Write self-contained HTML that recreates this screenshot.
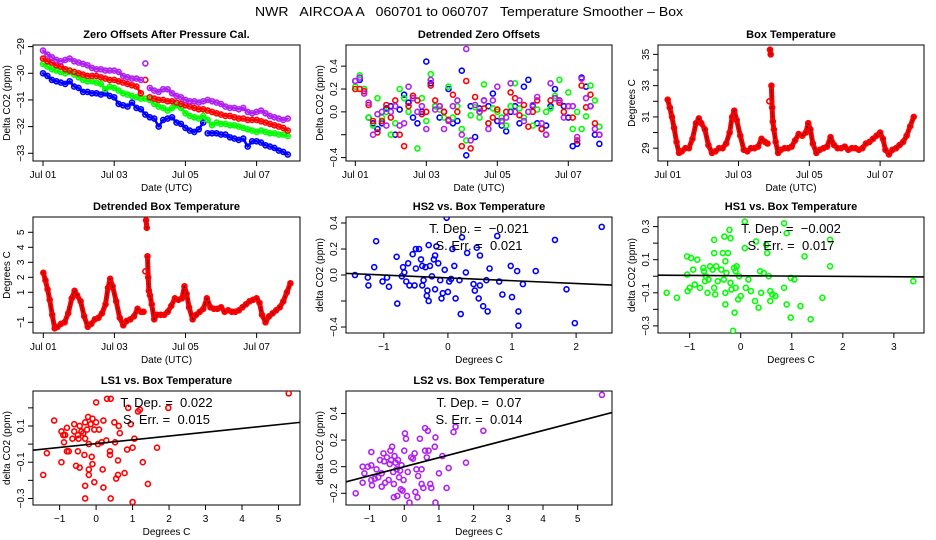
<!DOCTYPE html>
<html><head><meta charset="utf-8"><title>NWR AIRCOA A Temperature Smoother</title>
<style>
html,body{margin:0;padding:0;background:#fff;}
svg{display:block;font-family:"Liberation Sans",sans-serif;}
</style></head>
<body>
<svg id="chart" width="936" height="540" viewBox="0 0 936 540" xmlns="http://www.w3.org/2000/svg">
<rect x="0" y="0" width="936" height="540" fill="#fff"/>
<text x="469" y="16" text-anchor="middle" font-size="13" textLength="428" lengthAdjust="spacingAndGlyphs" style="white-space:pre">NWR   AIRCOA A   060701 to 060707   Temperature Smoother – Box</text>
</svg>
<script>
// ---------- data ----------
const days = [0,0.125,0.25,0.375,0.5,0.625,0.75,0.875,1,1.125,1.25,1.375,1.5,1.625,1.75,1.875,2,2.125,2.25,2.375,2.5,2.625,2.75,2.875,3,3.125,3.25,3.375,3.5,3.625,3.75,3.875,4,4.125,4.25,4.375,4.5,4.625,4.75,4.875,5,5.125,5.25,5.375,5.5,5.625,5.75,5.875,6,6.125,6.25,6.375,6.5,6.625,6.75,6.875];
const dateTickDays = [0,2,4,6];
const dateTickLabels = ['Jul 01','Jul 03','Jul 05','Jul 07'];

const zeroHS2 = [-30.0,-30.1,-30.25,-30.3,-30.35,-30.4,-30.3,-30.5,-30.55,-30.7,-30.7,-30.75,-30.75,-30.8,-30.75,-30.85,-30.9,-31.15,-31.2,-31.25,-31.1,-31.3,-31.35,-31.55,-31.65,-31.7,-32.0,-31.75,-31.7,-31.65,-31.85,-31.9,-32.05,-32.15,-32.2,-32.1,-31.85,-32.25,-32.25,-32.25,-32.3,-32.3,-32.4,-32.45,-32.5,-32.45,-32.75,-32.55,-32.55,-32.6,-32.7,-32.75,-32.8,-32.9,-32.95,-33.05];
const zeroHS1 = [-29.65,-29.75,-29.85,-29.9,-29.95,-30.0,-29.95,-30.05,-30.15,-30.25,-30.3,-30.3,-30.35,-30.4,-30.6,-30.5,-30.55,-30.65,-30.75,-30.8,-30.85,-30.9,-30.95,-30.95,-31.0,-31.15,-31.25,-31.3,-31.4,-31.3,-31.2,-31.3,-31.5,-31.6,-31.65,-31.7,-31.6,-31.75,-31.95,-31.85,-31.9,-31.9,-31.95,-31.95,-32.0,-32.05,-32.1,-32.15,-32.2,-32.15,-32.2,-32.25,-32.25,-32.3,-32.3,-32.35];
const zeroLS1 = [-29.45,-29.55,-29.6,-29.7,-29.75,-29.85,-29.9,-29.95,-30.0,-30.05,-30.1,-30.1,-30.1,-30.15,-30.2,-30.25,-30.25,-30.3,-30.35,-30.4,-30.45,-30.5,-30.75,-30.25,-30.9,-30.95,-31.0,-31.0,-31.05,-31.05,-31.1,-31.15,-31.2,-31.25,-31.3,-31.35,-31.35,-31.4,-31.45,-31.5,-31.55,-31.6,-31.6,-31.65,-31.7,-31.7,-31.75,-31.75,-31.75,-31.8,-31.85,-31.9,-31.95,-32.0,-32.05,-32.15];
const zeroLS2 = [-29.15,-29.3,-29.4,-29.5,-29.55,-29.5,-29.45,-29.55,-29.6,-29.65,-29.7,-29.8,-29.85,-29.85,-29.9,-29.9,-29.9,-29.95,-30.1,-30.15,-30.2,-30.2,-30.25,-29.63,-30.55,-30.65,-30.7,-30.6,-30.6,-30.75,-30.85,-30.9,-31.0,-31.05,-31.05,-31.1,-31.05,-31.0,-31.05,-31.1,-31.15,-31.25,-31.3,-31.3,-31.35,-31.3,-31.45,-31.5,-31.45,-31.4,-31.5,-31.6,-31.65,-31.7,-31.75,-31.7];

const detHS2 = [0.27,0.28,0.2,-0.05,-0.1,-0.15,-0.1,0.03,0.05,-0.2,0.02,0.15,0.08,-0.05,-0.1,0.0,0.44,0.25,0.05,-0.05,0.0,0.2,-0.1,-0.08,0.36,-0.38,0.05,-0.22,0.03,0.1,0.05,0.16,-0.08,-0.12,-0.17,0.0,0.05,-0.1,0.22,0.28,0.05,-0.1,-0.15,-0.12,0.05,0.2,0.1,0.05,-0.05,-0.3,-0.28,0.3,0.22,0.05,-0.2,-0.28];
const detLS1 = [0.2,0.2,0.18,0.06,-0.08,-0.18,-0.08,0.06,-0.05,0.1,-0.2,-0.3,0.05,0.14,0.1,-0.02,0.0,0.23,0.1,0.05,0.0,-0.07,0.15,0.0,-0.3,0.27,-0.32,0.13,0.0,0.03,-0.1,-0.05,0.02,-0.08,0.0,0.17,0.12,-0.03,0.06,-0.13,0.0,0.1,-0.15,-0.2,0.1,0.12,0.08,0.0,0.05,-0.05,-0.25,0.23,0.04,0.15,-0.1,-0.2];
const detHS1 = [0.22,0.32,0.2,-0.05,-0.12,0.12,-0.05,0.0,-0.2,-0.1,0.2,0.12,0.0,0.14,-0.32,0.12,-0.08,0.33,0.05,0.02,-0.05,0.22,-0.05,0.05,-0.15,-0.25,-0.03,0.04,-0.05,0.24,-0.1,0.03,0.0,-0.05,-0.12,0.05,0.25,0.03,-0.05,0.0,-0.12,0.02,-0.1,0.0,0.03,0.14,0.28,0.0,0.17,-0.15,0.0,-0.15,-0.04,0.23,0.1,-0.13];
const detLS2 = [0.27,0.3,0.16,0.08,-0.2,-0.02,0.0,-0.12,0.0,0.05,-0.12,-0.1,0.22,0.12,0.0,0.05,-0.15,0.28,0.02,0.05,-0.15,-0.08,0.05,0.1,-0.2,0.55,-0.25,0.06,0.0,0.1,-0.15,0.1,0.22,-0.08,-0.05,0.25,0.0,0.1,-0.08,0.0,0.06,0.13,-0.1,-0.2,0.25,0.12,0.1,-0.05,0.05,0.05,-0.22,0.29,0.12,0.05,-0.15,-0.2];

const boxDays = [0,0.06,0.12,0.18,0.25,0.32,0.4,0.5,0.6,0.7,0.8,0.88,0.95,1.05,1.15,1.25,1.35,1.45,1.55,1.65,1.75,1.82,1.88,1.95,2.05,2.15,2.25,2.35,2.45,2.55,2.65,2.75,2.82,2.87,2.89,2.91,2.93,2.95,2.97,3.0,3.05,3.12,3.2,3.3,3.4,3.5,3.6,3.7,3.8,3.9,3.97,4.03,4.1,4.2,4.3,4.4,4.5,4.6,4.7,4.8,4.9,5.0,5.1,5.2,5.3,5.4,5.5,5.6,5.7,5.8,5.9,6.0,6.08,6.15,6.25,6.35,6.45,6.55,6.65,6.75,6.85,6.95];
const boxTemp = [32.1,31.6,31.0,30.3,29.4,28.7,28.8,29.0,29.0,29.6,30.6,30.9,30.6,30.2,29.2,28.7,28.8,29.0,29.0,29.3,30.0,31.0,31.4,30.8,29.8,28.9,28.8,29.0,29.0,29.1,29.6,29.4,29.3,32.0,35.3,35.0,33.0,31.6,30.7,30.2,29.4,28.7,28.9,29.0,29.0,29.1,29.5,29.9,29.8,30.0,30.6,30.2,29.3,28.7,28.9,29.0,29.1,29.7,29.2,29.0,29.0,29.1,28.9,29.0,29.0,28.9,29.0,29.3,29.4,29.6,29.8,30.0,29.6,28.9,28.6,28.9,29.0,29.2,29.4,29.8,30.4,31.0];
const boxDetrended = [2.3,1.8,1.2,0.5,-0.5,-1.4,-1.3,-1.1,-1.0,-0.4,0.6,1.1,0.8,0.4,-0.6,-1.3,-1.1,-0.8,-0.7,-0.4,0.2,1.3,1.9,1.4,0.4,-0.7,-1.2,-0.9,-0.8,-0.6,-0.1,-0.3,-0.3,2.4,5.8,5.3,3.4,2.0,1.1,0.8,0.2,-0.8,-0.5,-0.5,-0.5,-0.3,0.1,0.6,0.5,0.6,1.4,0.9,0.0,-0.8,-0.5,-0.3,-0.1,0.6,0.0,-0.1,-0.1,0.0,-0.3,-0.2,-0.3,-0.3,-0.2,0.0,0.2,0.4,0.5,0.6,0.3,-0.5,-1.0,-0.6,-0.4,-0.2,0.0,0.4,1.0,1.6];

// scatter points: [box temperature (deg C), delta CO2 (ppm)]
const hs2Points = [[-1.45,0.0],[-1.25,-0.02],[-1.24,-0.08],[-1.15,0.06],[-1.12,0.26],[-1.02,-0.05],[-0.95,-0.02],[-0.92,-0.09],[-0.8,0.14],[-0.79,-0.22],[-0.72,-0.01],[-0.7,0.06],[-0.68,0.02],[-0.65,-0.05],[-0.62,0.09],[-0.6,-0.08],[-0.55,0.16],[-0.52,-0.08],[-0.5,0.2],[-0.5,0.05],[-0.45,0.2],[-0.42,0.12],[-0.4,0.07],[-0.4,-0.08],[-0.38,-0.04],[-0.35,0.06],[-0.33,-0.16],[-0.32,-0.12],[-0.3,0.23],[-0.3,-0.2],[-0.28,0.07],[-0.25,-0.01],[-0.22,0.12],[-0.2,0.15],[-0.2,-0.11],[-0.18,0.22],[-0.15,0.09],[-0.12,-0.04],[-0.1,-0.18],[-0.08,-0.14],[-0.05,0.04],[-0.02,0.44],[0.0,-0.13],[0.02,-0.05],[0.05,-0.03],[0.07,0.2],[0.1,0.07],[0.12,-0.18],[0.18,-0.04],[0.2,-0.3],[0.22,0.29],[0.28,0.02],[0.3,0.17],[0.4,-0.07],[0.42,-0.12],[0.45,0.21],[0.48,-0.18],[0.5,0.15],[0.5,-0.08],[0.55,-0.24],[0.6,-0.04],[0.62,-0.28],[0.65,0.05],[0.77,0.3],[0.8,-0.05],[0.85,-0.15],[0.98,0.07],[1.0,-0.17],[1.08,0.03],[1.1,-0.28],[1.1,-0.39],[1.17,-0.07],[1.37,0.03],[1.67,0.27],[1.85,-0.11],[1.98,-0.37],[2.4,0.37]];
const hs1Points = [[-1.45,-0.1],[-1.25,-0.13],[-1.05,0.01],[-1.05,0.12],[-1.04,-0.09],[-1.0,-0.07],[-0.97,0.11],[-0.93,0.04],[-0.9,-0.05],[-0.85,0.1],[-0.8,-0.07],[-0.73,0.05],[-0.72,0.03],[-0.7,-0.03],[-0.68,0.0],[-0.65,-0.1],[-0.63,-0.02],[-0.6,0.06],[-0.55,0.04],[-0.52,0.22],[-0.52,0.14],[-0.52,-0.07],[-0.5,-0.11],[-0.48,0.06],[-0.45,-0.03],[-0.38,0.04],[-0.35,0.14],[-0.33,-0.02],[-0.32,0.24],[-0.3,0.09],[-0.3,-0.1],[-0.3,-0.17],[-0.28,0.02],[-0.25,0.14],[-0.22,0.28],[-0.2,0.23],[-0.2,-0.04],[-0.18,-0.08],[-0.15,-0.33],[-0.13,0.05],[-0.12,-0.22],[-0.1,0.03],[-0.1,-0.07],[-0.08,0.06],[-0.05,-0.14],[-0.03,0.0],[0.0,-0.12],[0.08,0.33],[0.08,0.17],[0.1,-0.07],[0.15,-0.02],[0.2,-0.09],[0.28,-0.15],[0.3,0.21],[0.35,-0.19],[0.38,0.03],[0.4,-0.1],[0.45,0.02],[0.5,0.19],[0.52,0.14],[0.55,0.0],[0.58,-0.09],[0.58,-0.15],[0.62,-0.11],[0.68,-0.12],[0.85,-0.07],[0.85,0.32],[0.9,0.26],[0.9,-0.17],[0.98,-0.25],[0.98,-0.01],[1.05,-0.02],[1.17,-0.18],[1.25,0.12],[1.37,-0.26],[1.6,-0.13],[1.75,0.06],[1.75,0.22],[3.38,-0.03]];
const ls1Points = [[-1.45,-0.17],[-1.35,-0.05],[-1.15,0.13],[-0.95,0.07],[-0.95,-0.1],[-0.9,0.05],[-0.88,0.01],[-0.85,0.05],[-0.8,0.09],[-0.8,-0.04],[-0.75,-0.04],[-0.65,0.03],[-0.6,0.11],[-0.6,0.07],[-0.55,-0.12],[-0.5,0.05],[-0.5,-0.04],[-0.48,0.03],[-0.45,0.1],[-0.45,-0.13],[-0.4,0.07],[-0.35,0.06],[-0.32,-0.06],[-0.3,0.12],[-0.3,0.03],[-0.3,-0.23],[-0.3,-0.3],[-0.25,0.08],[-0.22,0.15],[-0.2,0.0],[-0.2,-0.14],[-0.2,-0.17],[-0.15,0.11],[-0.12,-0.07],[-0.1,0.14],[-0.1,-0.11],[-0.05,0.08],[-0.05,-0.21],[0.0,0.12],[0.0,0.23],[0.05,0.0],[0.08,0.08],[0.15,0.01],[0.18,-0.14],[0.2,-0.24],[0.2,0.13],[0.28,0.02],[0.3,0.25],[0.38,-0.06],[0.38,-0.04],[0.4,-0.3],[0.4,0.25],[0.5,0.12],[0.52,0.01],[0.55,-0.19],[0.6,-0.17],[0.6,-0.09],[0.62,0.1],[0.65,0.06],[0.78,-0.16],[0.85,-0.03],[0.88,0.2],[0.95,0.11],[1.0,-0.02],[1.0,-0.32],[1.05,0.03],[1.15,0.18],[1.2,0.19],[1.28,-0.1],[1.42,-0.22],[1.67,-0.02],[1.98,0.2],[5.28,0.28]];
const ls2Points = [[-1.4,-0.2],[-1.2,-0.12],[-1.2,0.0],[-1.15,-0.05],[-1.05,0.0],[-0.95,0.11],[-0.95,0.01],[-0.95,-0.1],[-0.93,-0.14],[-0.85,-0.09],[-0.8,-0.02],[-0.75,-0.08],[-0.7,0.05],[-0.65,-0.05],[-0.65,-0.15],[-0.6,0.1],[-0.58,0.04],[-0.55,-0.12],[-0.5,0.07],[-0.45,-0.1],[-0.42,0.02],[-0.4,0.12],[-0.38,0.05],[-0.35,0.15],[-0.32,-0.04],[-0.3,-0.23],[-0.3,-0.13],[-0.28,0.08],[-0.25,0.03],[-0.22,-0.02],[-0.2,-0.22],[-0.18,0.05],[-0.15,-0.08],[-0.12,-0.03],[-0.1,-0.17],[-0.08,0.01],[-0.05,-0.18],[-0.02,-0.1],[0.0,0.12],[0.02,0.25],[0.05,0.21],[0.08,-0.22],[0.1,-0.04],[0.15,-0.27],[0.2,0.07],[0.25,0.06],[0.3,0.1],[0.32,-0.19],[0.35,-0.02],[0.38,-0.23],[0.4,-0.07],[0.45,0.21],[0.5,-0.02],[0.5,-0.13],[0.55,-0.16],[0.6,0.29],[0.6,0.12],[0.65,0.07],[0.68,0.27],[0.7,0.12],[0.75,-0.13],[0.78,-0.16],[0.88,0.15],[0.9,-0.27],[0.9,0.22],[1.0,-0.05],[1.1,0.08],[1.22,-0.16],[1.28,-0.01],[1.42,0.26],[1.48,0.3],[1.78,0.03],[2.28,0.27],[5.7,0.54]];

// fits: [intercept, slope]
const hs2Fit = [-0.022,-0.0217];
const hs1Fit = [0.003,-0.002];
const ls1Fit = [0.0025,0.021];
const ls2Fit = [0.0,0.068];
const hs2Stats = ['T. Dep. =  \u22120.021','S. Err. =  0.021'];
const hs1Stats = ['T. Dep. =  \u22120.002','S. Err. =  0.017'];
const ls1Stats = ['T. Dep. =  0.022','S. Err. =  0.015'];
const ls2Stats = ['T. Dep. =  0.07','S. Err. =  0.014'];

// ---------- drawing ----------
const NS = 'http://www.w3.org/2000/svg';
const svg = document.getElementById('chart');
function mk(tag, attrs, parent){
  const e = document.createElementNS(NS, tag);
  for (const k in attrs) e.setAttribute(k, attrs[k]);
  (parent || svg).appendChild(e);
  return e;
}

function panel(p){
  const g = mk('g', {});
  
  
  const sx = v => p.left + (v - p.xmin) / (p.xmax - p.xmin) * (p.right - p.left);
  const sy = v => p.bottom - (v - p.ymin) / (p.ymax - p.ymin) * (p.bottom - p.top);
  const box = mk('rect', {x:p.left, y:p.top, width:p.right-p.left, height:p.bottom-p.top, fill:'none', stroke:'#000', 'stroke-width':1}, g);
  
  
  const t = mk('text', {x:(p.left+p.right)/2, y:p.top-7, 'text-anchor':'middle', 'font-size':11, 'font-weight':'bold'}, g);
  t.textContent = p.title;
  
  
  p.xticks.forEach((v, i) => {
    const x = sx(v);
    const tk = mk('line', {x1:x, x2:x, y1:p.bottom, y2:p.bottom+5, stroke:'#000'}, g);
    
    
    const lbl = p.xlabels[i];
    if (lbl !== '') {
      const tl = mk('text', {x:x, y:p.bottom+17, 'text-anchor':'middle', 'font-size':10}, g);
      tl.textContent = lbl;
      
      
    }
  });
  const xa = mk('line', {x1:sx(p.xticks[0]), x2:sx(p.xticks[p.xticks.length-1]), y1:p.bottom, y2:p.bottom, stroke:'#000'}, g);
  
  
  const xt = mk('text', {x:(p.left+p.right)/2, y:p.bottom+30, 'text-anchor':'middle', 'font-size':10}, g);
  xt.textContent = p.xtitle;
  
  
  p.yticks.forEach((v, i) => {
    const y = sy(v);
    const tk = mk('line', {x1:p.left-5, x2:p.left, y1:y, y2:y, stroke:'#000'}, g);
    
    
    const lbl = p.ylabels[i];
    if (lbl !== '') {
      const lx = p.left - 9;
      const tl = mk('text', {x:lx, y:y, 'text-anchor':'middle', 'font-size':10, transform:'rotate(-90 '+lx+' '+y+')'}, g);
      tl.textContent = lbl;
      
      
    }
  });
  const ya = mk('line', {x1:p.left, x2:p.left, y1:sy(p.yticks[0]), y2:sy(p.yticks[p.yticks.length-1]), stroke:'#000'}, g);
  
  
  const tx = p.left - 23, ty = (p.top + p.bottom) / 2;
  const yt = mk('text', {x:tx, y:ty, 'text-anchor':'middle', 'font-size':10, transform:'rotate(-90 '+tx+' '+ty+')'}, g);
  yt.textContent = p.ytitle;
  
  
  const clipId = 'clip-' + p.name;
  const cp = mk('clipPath', {id:clipId}, g);
  mk('rect', {x:p.left, y:p.top, width:p.right-p.left, height:p.bottom-p.top}, cp);
  const plot = mk('g', {'clip-path':'url(#'+clipId+')'}, g);
  
  
  return {g, plot, sx, sy, p};
}

// thick band through consecutive samples; breaks where the jump is too large (outliers stay isolated)
function band(P, xs, ys, color, width, name, maxJump, dash){
  const n = Math.min(xs.length, ys.length);
  const segs = [];
  let cur = [];
  let prevY = null;
  for (let i = 0; i < n; i++) {
    const px = P.sx(xs[i]), py = P.sy(ys[i]);
    if (prevY !== null && Math.abs(py - prevY) > maxJump) { segs.push(cur); cur = []; }
    cur.push(px.toFixed(1) + ',' + py.toFixed(1));
    prevY = py;
  }
  segs.push(cur);
  segs.forEach(sg => {
    if (sg.length < 2) return;
    const attrs = {points:sg.join(' '), fill:'none', stroke:color, 'stroke-width':width, 'stroke-linejoin':'round', 'stroke-linecap':'round'};
    if (dash) attrs['stroke-dasharray'] = dash;
    const l = mk('polyline', attrs, P.plot);
    
    
  });
}

function dots(P, xs, ys, color, name, r){
  const s = mk('g', {}, P.plot);
  
  
  const n = Math.min(xs.length, ys.length);
  for (let i = 0; i < n; i++) {
    const c = mk('circle', {cx:P.sx(xs[i]), cy:P.sy(ys[i]), r:r || 2.5, fill:'none', stroke:color, 'stroke-width':1.6}, s);
    
    
  }
}
function scatter(P, pts, color, name){
  dots(P, pts.map(q => q[0]), pts.map(q => q[1]), color, name);
}
function fit(P, f, stats){
  const x0 = P.p.xmin, x1 = P.p.xmax;
  const l = mk('line', {x1:P.sx(x0), y1:P.sy(f[0]+f[1]*x0), x2:P.sx(x1), y2:P.sy(f[0]+f[1]*x1), stroke:'#000', 'stroke-width':1.6}, P.plot);
  
  
  const cx = (P.p.left + P.p.right) / 2;
  const a = mk('text', {x:cx, y:P.p.top+16, 'text-anchor':'middle', 'font-size':13, style:'white-space:pre'}, P.g);
  a.textContent = stats[0];
  
  
  const b = mk('text', {x:cx, y:P.p.top+33, 'text-anchor':'middle', 'font-size':13, style:'white-space:pre'}, P.g);
  b.textContent = stats[1];
  
  
}

// Row 1
const p1 = panel({name:'zero-offsets-panel', left:33, right:300, top:45, bottom:161, xmin:-0.281, xmax:7.219, ymin:-33.29, ymax:-28.94,
  title:'Zero Offsets After Pressure Cal.', xtitle:'Date (UTC)', ytitle:'Delta CO2 (ppm)',
  xticks:dateTickDays, xlabels:dateTickLabels, yticks:[-33,-32,-31,-30,-29], ylabels:['\u221233','\u221232','\u221231','\u221230','\u221229']});
band(p1, days, zeroHS2, '#0000ff', 2.5, 'hs2-band', 9);
band(p1, days, zeroHS1, '#00ff00', 2.5, 'hs1-band', 9);
band(p1, days, zeroLS1, '#ff0000', 2.5, 'ls1-band', 9);
band(p1, days, zeroLS2, '#b020f0', 2.5, 'ls2-band', 9);
dots(p1, days, zeroHS2, '#0000ff', 'hs2-series');
dots(p1, days, zeroHS1, '#00ff00', 'hs1-series');
dots(p1, days, zeroLS1, '#ff0000', 'ls1-series');
dots(p1, days, zeroLS2, '#b020f0', 'ls2-series');

const p2 = panel({name:'detrended-zero-offsets-panel', left:346, right:612, top:45, bottom:161, xmin:-0.262, xmax:7.231, ymin:-0.43, ymax:0.585,
  title:'Detrended Zero Offsets', xtitle:'Date (UTC)', ytitle:'Delta CO2 (ppm)',
  xticks:dateTickDays, xlabels:dateTickLabels, yticks:[-0.4,-0.2,0,0.2,0.4], ylabels:['\u22120.4','','0.0','0.2','0.4']});
dots(p2, days, detHS2, '#0000ff', 'hs2-detrended');
dots(p2, days, detHS1, '#00ff00', 'hs1-detrended');
dots(p2, days, detLS1, '#ff0000', 'ls1-detrended');
dots(p2, days, detLS2, '#b020f0', 'ls2-detrended');

const p3 = panel({name:'box-temperature-panel', left:658, right:924, top:45, bottom:161, xmin:-0.274, xmax:7.24, ymin:28.18, ymax:35.6,
  title:'Box Temperature', xtitle:'Date (UTC)', ytitle:'Degrees C',
  xticks:dateTickDays, xlabels:dateTickLabels, yticks:[29,30,31,32,33,34,35], ylabels:['29','','31','','33','','35']});
band(p3, boxDays, boxTemp, '#ff0000', 5, 'box-temp-band', 25);
band(p3, boxDays, boxTemp, '#300', 1, 'box-temp-texture', 25, '1.5,1.5');
dots(p3, boxDays, boxTemp, '#ff0000', 'box-temp');

// Row 2
const p4 = panel({name:'detrended-box-temperature-panel', left:33, right:300, top:217, bottom:333, xmin:-0.29, xmax:7.22, ymin:-1.713, ymax:6.02,
  title:'Detrended Box Temperature', xtitle:'Date (UTC)', ytitle:'Degrees C',
  xticks:dateTickDays, xlabels:dateTickLabels, yticks:[-1,0,1,2,3,4,5], ylabels:['\u22121','','1','2','3','4','5']});
band(p4, boxDays, boxDetrended, '#ff0000', 5, 'box-temp-detrended-band', 25);
band(p4, boxDays, boxDetrended, '#300', 1, 'box-temp-detrended-texture', 25, '1.5,1.5');
dots(p4, boxDays, boxDetrended, '#ff0000', 'box-temp-detrended');

const p5 = panel({name:'hs2-vs-temp-panel', left:346, right:612, top:217, bottom:333, xmin:-1.59, xmax:2.56, ymin:-0.446, ymax:0.446,
  title:'HS2 vs. Box Temperature', xtitle:'Degrees C', ytitle:'delta CO2 (ppm)',
  xticks:[-1,0,1,2], xlabels:['\u22121','0','1','2'], yticks:[-0.4,-0.2,0,0.2,0.4], ylabels:['\u22120.4','','0.0','0.2','0.4']});
scatter(p5, hs2Points, '#0000ff', 'hs2-scatter');
fit(p5, hs2Fit, hs2Stats);

const p6 = panel({name:'hs1-vs-temp-panel', left:658, right:924, top:217, bottom:333, xmin:-1.62, xmax:3.59, ymin:-0.343, ymax:0.358,
  title:'HS1 vs. Box Temperature', xtitle:'Degrees C', ytitle:'delta CO2 (ppm)',
  xticks:[-1,0,1,2,3], xlabels:['\u22121','0','1','2','3'], yticks:[-0.3,-0.2,-0.1,0,0.1,0.2,0.3], ylabels:['\u22120.3','','\u22120.1','','0.1','','0.3']});
scatter(p6, hs1Points, '#00ff00', 'hs1-scatter');
fit(p6, hs1Fit, hs1Stats);

// Row 3
const p7 = panel({name:'ls1-vs-temp-panel', left:33, right:300, top:391, bottom:505, xmin:-1.73, xmax:5.59, ymin:-0.336, ymax:0.293,
  title:'LS1 vs. Box Temperature', xtitle:'Degrees C', ytitle:'delta CO2 (ppm)',
  xticks:[-1,0,1,2,3,4,5], xlabels:['\u22121','0','1','2','3','4','5'], yticks:[-0.3,-0.2,-0.1,0,0.1,0.2], ylabels:['\u22120.3','','\u22120.1','','0.1','']});
scatter(p7, ls1Points, '#ff0000', 'ls1-scatter');
fit(p7, ls1Fit, ls1Stats);

const p8 = panel({name:'ls2-vs-temp-panel', left:346, right:612, top:391, bottom:505, xmin:-1.68, xmax:5.99, ymin:-0.288, ymax:0.569,
  title:'LS2 vs. Box Temperature', xtitle:'Degrees C', ytitle:'delta CO2 (ppm)',
  xticks:[-1,0,1,2,3,4,5], xlabels:['\u22121','0','1','2','3','4','5'], yticks:[-0.2,0,0.2,0.4], ylabels:['\u22120.2','0.0','0.2','0.4']});
scatter(p8, ls2Points, '#b020f0', 'ls2-scatter');
fit(p8, ls2Fit, ls2Stats);
</script>
</body></html>
